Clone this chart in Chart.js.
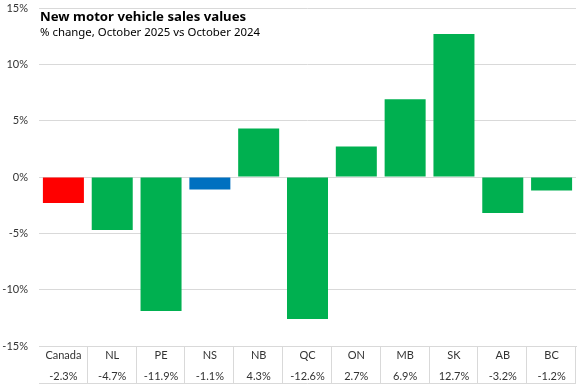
<!DOCTYPE html>
<html>
<head>
<meta charset="utf-8">
<script src="https://cdn.jsdelivr.net/npm/chart.js@4/dist/chart.umd.min.js"></script>
<style>
  html, body { margin: 0; padding: 0; background: #fff; }
  #wrap { width: 577px; height: 385px; }
</style>
</head>
<body>
<div id="wrap"><canvas id="mycanvas"></canvas></div>
<script>
var regions = ['Canada', 'NL', 'PE', 'NS', 'NB', 'QC', 'ON', 'MB', 'SK', 'AB', 'BC'];
var pctChange = [-2.3, -4.7, -11.9, -1.1, 4.3, -12.6, 2.7, 6.9, 12.7, -3.2, -1.2];
var barColours = ['#FF0000', '#00B050', '#00B050', '#0070C0', '#00B050', '#00B050', '#00B050', '#00B050', '#00B050', '#00B050', '#00B050'];
var yTicks = [-15, -10, -5, 0, 5, 10, 15];

var titleText = 'New motor vehicle sales values';
var subtitleText = '% change, October 2025 vs October 2024';

// table-style labels: region on first line, value on second
var tableLabels = [];
for (var i in regions) {
	tableLabels.push([regions[i], pctChange[i].toFixed(1) + '%']);
}

var gridColour = '#d9d9d9';

var overlay = {
	id: 'overlay',
	afterDraw: function(chart) {
		var ctx = chart.ctx;
		var xs = chart.scales.x;
		var half = (xs.getPixelForValue(1) - xs.getPixelForValue(0)) / 2;
		var top = xs.top;
		var bottom = xs.bottom - 1.5;
		ctx.save();
		ctx.strokeStyle = gridColour;
		ctx.lineWidth = 1;
		ctx.beginPath();
		// column separators of the data table
		for (var i = 0; i < regions.length; i++) {
			var px = Math.round(xs.getPixelForValue(i) + half) - 0.5;
			ctx.moveTo(px, top);
			ctx.lineTo(px, bottom);
		}
		ctx.moveTo(xs.left, bottom);
		ctx.lineTo(xs.right, bottom);
		ctx.stroke();
		// title block sits inside the plot
		ctx.fillStyle = '#000';
		ctx.textBaseline = 'middle';
		ctx.font = 'bold 13.2px "Noto Sans"';
		ctx.fillText(titleText, 40, 17);
		ctx.font = '11.4px "Noto Sans"';
		ctx.fillText(subtitleText, 40, 33);
		ctx.restore();
	}
};

var chartdata = {
	labels: tableLabels,
	datasets: [
		{
			label: '% change',
			backgroundColor: barColours,
			borderWidth: 0,
			barPercentage: 0.84,
			categoryPercentage: 1,
			data: pctChange
		}
	]
};

var LineGraph = new Chart(document.getElementById('mycanvas'), {
	type: 'bar',
	data: chartdata,
	plugins: [overlay],
	options: {
		responsive: true,
		maintainAspectRatio: false,
		animation: false,
		layout: { padding: { left: 0, right: 1, top: 0, bottom: 0 } },
		plugins: {
			legend: { display: false },
			tooltip: { enabled: false }
		},
		scales: {
			x: {
				offset: true,
				grid: { display: false, drawTicks: false },
				border: { display: true, color: gridColour },
				afterFit: function(axis) { axis.height = 39; },
				ticks: {
					maxRotation: 0,
					autoSkip: false,
					padding: -1,
					color: '#333',
					font: { family: 'Lato', size: 11, lineHeight: '21px' }
				}
			},
			y: {
				min: -15,
				max: 15,
				afterBuildTicks: function(axis) {
					axis.ticks = yTicks.map(function(v) { return { value: v }; });
				},
				afterFit: function(axis) {
					axis.width = 39;
					axis.paddingTop = 8;
					axis.paddingBottom = 0;
				},
				grid: { color: gridColour, drawTicks: false },
				border: { display: false },
				ticks: {
					padding: 11,
					color: '#333',
					font: { family: 'Lato', size: 11 },
					callback: function(v) { return v + '%'; }
				}
			}
		}
	}
});
</script>
</body>
</html>
